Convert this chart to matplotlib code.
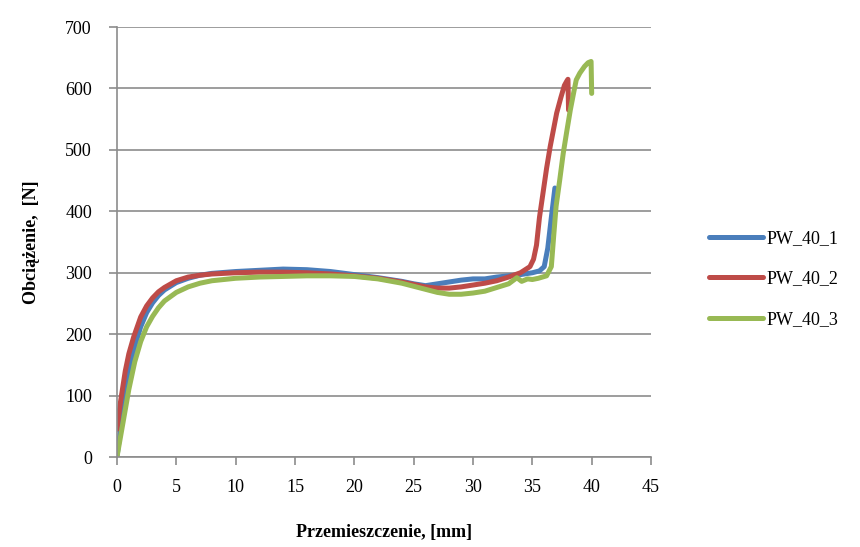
import matplotlib
matplotlib.use("Agg")
import matplotlib.pyplot as plt

plt.rcParams['font.family'] = ['Liberation Serif', 'DejaVu Serif']

# PW_40_1
x1 = [0, 0.5, 1, 1.5, 2, 2.5, 3, 3.5, 4, 5, 6, 7, 8, 10, 12, 14, 16, 18, 20, 22, 24, 25,
      26, 27, 28, 29, 30, 31, 32, 33, 34, 35, 35.6, 36.0, 36.3, 36.6, 36.9]
y1 = [0, 75, 135, 180, 212, 235, 251, 263, 272, 284, 291, 296, 299, 302, 304, 306, 305,
      302, 297, 292, 286, 282, 279, 282, 285, 288, 290, 290, 293, 295, 297, 300, 303, 310,
      340, 390, 438]

# PW_40_2
x2 = [0, 0.3, 0.7, 1, 1.4, 2, 2.5, 3, 3.5, 4, 5, 6, 7, 8, 10, 12, 14, 16, 18, 20, 22, 24,
      25, 26, 27, 28, 29, 30, 31, 32, 33, 34, 34.8, 35.1, 35.35, 35.6, 35.9, 36.2, 36.5,
      36.8, 37.05, 37.4, 37.7, 37.9, 38.0, 38.05]
y2 = [45, 90, 140, 168, 195, 228, 246, 259, 269, 276, 287, 293, 296, 298, 300, 301, 301,
      300, 298, 295, 291, 285, 281, 277, 275, 275, 277, 280, 283, 287, 293, 300, 310, 322,
      345, 390, 430, 470, 505, 535, 560, 585, 605, 612, 615, 565]

# PW_40_3
x3 = [0, 0.5, 1, 1.5, 2, 2.5, 3, 3.5, 4, 5, 6, 7, 8, 10, 12, 14, 16, 18, 20, 22, 24, 25,
      26, 27, 28, 29, 30, 31, 32, 33, 33.7, 34.1, 34.6, 35, 35.5, 36.2, 36.6, 36.8, 37.0,
      37.3, 37.6, 37.9, 38.2, 38.5, 38.7, 39.0, 39.4, 39.7, 39.95, 40.0]
y3 = [0, 55, 110, 155, 188, 212, 229, 243, 254, 268, 277, 283, 287, 291, 293, 294, 295,
      295, 294, 290, 283, 278, 273, 268, 265, 265, 267, 270, 276, 282, 292, 286, 290, 289,
      291, 295, 310, 360, 408, 450, 494, 530, 565, 595, 614, 625, 636, 642, 644, 592]

labels = ['PW_40_1', 'PW_40_2', 'PW_40_3']
colors = ['#4A7EBB', '#BE4B48', '#98B954']

fig = plt.figure(figsize=(8.6, 5.47), dpi=100)
ax = fig.add_axes([0.136, 0.1645, 0.621, 0.786])

for xs, ys, lab, c in zip([x1, x2, x3], [y1, y2, y3], labels, colors):
    ax.plot(xs, ys, color=c, lw=3.6, label=lab, solid_capstyle='round',
            solid_joinstyle='round')

ax.set_xlim(0, 45)
ax.set_ylim(0, 700)
ax.set_xticks(range(0, 46, 5))
ax.set_yticks(range(0, 701, 100))
ax.grid(axis='y', color='#8c8c8c', lw=1.2)
ax.set_axisbelow(True)
for s in ['top', 'right']:
    ax.spines[s].set_visible(False)
for s in ['left', 'bottom']:
    ax.spines[s].set_color('#8c8c8c')
    ax.spines[s].set_linewidth(1.2)
ax.tick_params(axis='both', colors='#8c8c8c', labelcolor='black', labelsize=13,
               length=6, width=1.2, direction='out')
ax.tick_params(axis='y', pad=12)
ax.tick_params(axis='x', pad=10)

ax.set_xlabel('Przemieszczenie, [mm]', fontsize=13, fontweight='bold', labelpad=20)
ax.set_ylabel('Obciążenie,  [N]', fontsize=13, fontweight='bold', labelpad=18)

fig.legend(loc='center left', bbox_to_anchor=(0.805, 0.49), frameon=False,
           fontsize=13, handlelength=3.0, handletextpad=0.2, labelspacing=1.3)

fig.savefig('out.png', dpi=100)
